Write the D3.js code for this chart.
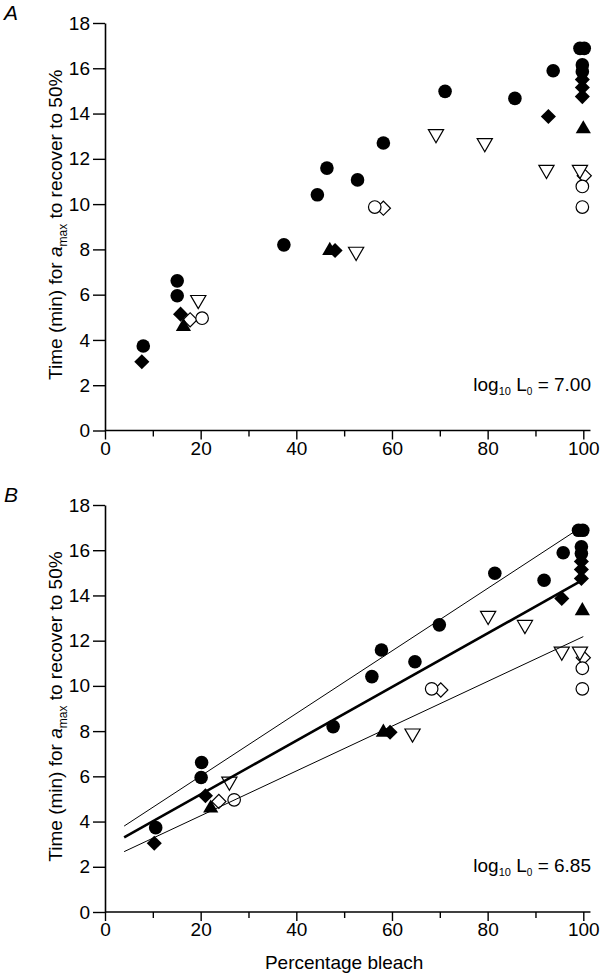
<!DOCTYPE html>
<html><head><meta charset="utf-8">
<script src="https://cdn.jsdelivr.net/npm/d3@7/dist/d3.min.js"></script>
<style>
body{margin:0;background:#fff}
svg{display:block;font-family:"Liberation Sans",Arial,Helvetica,sans-serif}
</style>
</head><body>
<svg id="chart" width="600" height="979"></svg>
<script>
// ---------------- data ----------------
const yTicks = [0, 2, 4, 6, 8, 10, 12, 14, 16, 18];
const xTicks = [0, 10, 20, 30, 40, 50, 60, 70, 80, 90, 100];
const xTickLabels = [0, 20, 40, 60, 80, 100];
const panelNames = ["A", "B"];
const panelLabels = ["7.00", "6.85"];

// filled circles
const filledCircleY  = [3.73, 6.61, 5.95, 8.20, 10.41, 11.59, 11.07, 12.70, 14.98, 14.67, 15.89, 16.88, 16.88, 16.15, 15.85];
const filledCircleXA = [8.0, 15.1, 15.1, 37.4, 44.4, 46.4, 52.8, 58.2, 71.1, 85.7, 93.7, 99.3, 100.2, 99.8, 99.8];
const filledCircleXB = [10.6, 20.2, 20.1, 47.7, 55.8, 57.8, 64.8, 69.9, 81.5, 91.8, 95.8, 99.0, 99.9, 99.6, 99.6];
// filled diamonds
const filledDiamondY  = [3.04, 5.14, 7.95, 13.87, 15.50, 15.15, 14.75];
const filledDiamondXA = [7.7, 15.8, 48.1, 92.7, 99.8, 99.8, 99.8];
const filledDiamondXB = [10.3, 21.0, 59.6, 95.5, 99.6, 99.6, 99.6];
// filled triangles
const filledTriangleY  = [4.59, 7.95, 13.32];
const filledTriangleXA = [16.4, 47.0, 100.0];
const filledTriangleXB = [22.1, 58.2, 99.8];
// open circles
const openCircleY  = [4.96, 9.87, 10.78, 9.87];
const openCircleXA = [20.3, 56.4, 99.8, 99.8];
const openCircleXB = [27.0, 68.3, 99.8, 99.8];
// open diamonds
const openDiamondY  = [4.89, 9.82, 11.25];
const openDiamondXA = [17.8, 58.2, 100.2];
const openDiamondXB = [23.8, 70.2, 100.0];
// open (inverted) triangles
const openTriangleY  = [5.77, 7.90, 13.10, 12.70, 11.52, 11.52];
const openTriangleXA = [19.5, 52.5, 69.2, 79.4, 92.3, 99.3];
const openTriangleXB = [26.0, 64.3, 80.1, 87.8, 95.5, 99.3];

// regression lines (panel B)
const fitMidX = [4, 100],   fitMidY = [3.30, 14.70];
const fitUpX  = [4, 99],    fitUpY  = [3.80, 16.94];
const fitLoX  = [4, 100],   fitLoY  = [2.67, 12.18];

// ---------------- drawing ----------------
const svg = d3.select("#chart");
const FONT = 19;
const panelTop = [23, 505];
const panelBottom = [430.5, 912];

const x = d3.scaleLinear().domain([0, 100]).range([105, 583.3]);

const shapeCircle = d3.symbol().type(d3.symbolCircle).size(145)();
const shapeOpenCircle = d3.symbol().type(d3.symbolCircle).size(124)();
const shapeDiamond = d3.symbol().type(d3.symbolSquare).size(114)();
const shapeOpenDiamond = d3.symbol().type(d3.symbolSquare).size(100)();
const shapeTriangle = d3.symbol().type(d3.symbolTriangle).size(100)();

function zip(xs, ys) { return xs.map((v, i) => [v, ys[i]]); }

panelNames.forEach((name, p) => {
  const y = d3.scaleLinear().domain([0, 18]).range([panelBottom[p], panelTop[p]]);
  const g = svg.append("g");
  const pick = (a, b) => p === 0 ? a : b;

  // y axis
  const yAx = g.append("g").attr("transform", `translate(${x(0)},0)`)
    .call(d3.axisLeft(y).tickValues(yTicks).tickSize(12).tickSizeOuter(0).tickPadding(3));
  yAx.select(".domain").attr("stroke-width", 1.6);
  yAx.selectAll(".tick line").attr("stroke-width", 1.4);
  yAx.selectAll("text").attr("font-size", FONT).attr("font-family", "Liberation Sans, Arial, sans-serif").attr("fill", "#000");

  // x axis
  const xAx = g.append("g").attr("transform", `translate(0,${y(0)})`)
    .call(d3.axisBottom(x).tickValues(xTicks).tickSize(9).tickSizeOuter(0)
      .tickFormat(d => xTickLabels.includes(d) ? d : "").tickPadding(2));
  xAx.select(".domain").attr("d", `M${x(0)},0H${x(101.5)}`).attr("stroke-width", 1.6);
  xAx.selectAll(".tick line").attr("stroke-width", 1.4)
    .attr("y2", d => xTickLabels.includes(d) ? 9 : 6);
  xAx.selectAll("text").attr("font-size", FONT).attr("font-family", "Liberation Sans, Arial, sans-serif").attr("fill", "#000");

  // y title
  const cy = (y(0) + y(18)) / 2;
  const t = g.append("text").attr("transform", `translate(62,${cy - 2}) rotate(-90)`)
    .attr("text-anchor", "middle").attr("font-size", FONT);
  t.append("tspan").text("Time (min) for ");
  t.append("tspan").attr("font-style", "italic").text("a");
  t.append("tspan").attr("font-size", 12).attr("dy", 5).text("max");
  t.append("tspan").attr("dy", -5).text(" to recover to 50%");

  // panel letter
  g.append("text").attr("x", 4).attr("y", panelTop[p] - 3).attr("font-size", 21)
    .attr("font-style", "italic").text(name);

  // log label
  const lt = g.append("text").attr("x", 591).attr("y", y(0) - 40).attr("text-anchor", "end").attr("font-size", FONT);
  lt.append("tspan").text("log");
  lt.append("tspan").attr("font-size", 11).attr("dy", 4).text("10");
  lt.append("tspan").attr("dy", -4).text(" L");
  lt.append("tspan").attr("font-size", 10).attr("dy", 4).text("0");
  lt.append("tspan").attr("dy", -4).text(" = " + panelLabels[p]);

  const plot = g.append("g");
  // open diamonds
  plot.selectAll(".od").data(zip(pick(openDiamondXA, openDiamondXB), openDiamondY)).join("path")
    .attr("d", shapeOpenDiamond).attr("transform", d => `translate(${x(d[0])},${y(d[1])}) rotate(45)`)
    .attr("fill", "#fff").attr("stroke", "#000").attr("stroke-width", 1.2);
  // open circles
  plot.selectAll(".oc").data(zip(pick(openCircleXA, openCircleXB), openCircleY)).join("path")
    .attr("d", shapeOpenCircle).attr("transform", d => `translate(${x(d[0])},${y(d[1])})`)
    .attr("fill", "#fff").attr("stroke", "#000").attr("stroke-width", 1.2);
  // open triangles (pointing down)
  plot.selectAll(".ot").data(zip(pick(openTriangleXA, openTriangleXB), openTriangleY)).join("path")
    .attr("d", shapeTriangle).attr("transform", d => `translate(${x(d[0])},${y(d[1])}) rotate(180)`)
    .attr("fill", "#fff").attr("stroke", "#000").attr("stroke-width", 1.2);
  // filled circles
  plot.selectAll(".fc").data(zip(pick(filledCircleXA, filledCircleXB), filledCircleY)).join("path")
    .attr("d", shapeCircle).attr("transform", d => `translate(${x(d[0])},${y(d[1])})`).attr("fill", "#000");
  // filled diamonds
  plot.selectAll(".fd").data(zip(pick(filledDiamondXA, filledDiamondXB), filledDiamondY)).join("path")
    .attr("d", shapeDiamond).attr("transform", d => `translate(${x(d[0])},${y(d[1])}) rotate(45)`).attr("fill", "#000");
  // filled triangles
  plot.selectAll(".ft").data(zip(pick(filledTriangleXA, filledTriangleXB), filledTriangleY)).join("path")
    .attr("d", shapeTriangle).attr("transform", d => `translate(${x(d[0])},${y(d[1])})`).attr("fill", "#000");

  if (p === 1) {
    const line = d3.line().x(d => x(d[0])).y(d => y(d[1]));
    g.append("path").attr("d", line(zip(fitUpX, fitUpY))).attr("fill", "none").attr("stroke", "#000").attr("stroke-width", 1);
    g.append("path").attr("d", line(zip(fitLoX, fitLoY))).attr("fill", "none").attr("stroke", "#000").attr("stroke-width", 1);
    g.append("path").attr("d", line(zip(fitMidX, fitMidY))).attr("fill", "none").attr("stroke", "#000").attr("stroke-width", 2.6);
    // x title
    g.append("text").attr("x", (x(0) + x(100)) / 2).attr("y", 969).attr("text-anchor", "middle")
      .attr("font-size", FONT).text("Percentage bleach");
  }
});
</script>
</body></html>
